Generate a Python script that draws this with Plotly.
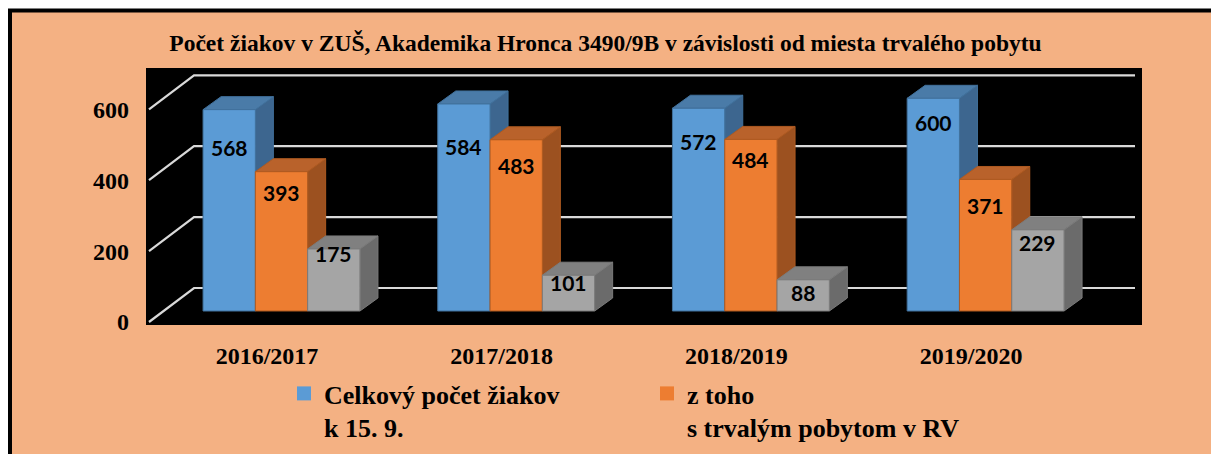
import plotly.graph_objects as go

# ---- data -------------------------------------------------------------
years = ["2016/2017", "2017/2018", "2018/2019", "2019/2020"]
celkovo = [568, 584, 572, 600]          # Celkový počet žiakov k 15. 9.
trvaly_rv = [393, 483, 484, 371]        # z toho s trvalým pobytom v RV
mimo_rv = [175, 101, 88, 229]           # ostatní žiaci
y_ticks = [0, 200, 400, 600]

series_names = [
    "Celkový počet žiakov<br>k 15. 9.",
    "z toho<br>s trvalým pobytom v RV",
    "mimo RV",
]
series_in_legend = [True, True, False]

# ---- styling / geometry (pixels) -------------------------------------
W, H = 1211, 454
PL, PT, PR, PB = 146, 68, 1142, 325     # black plot area
GROUP_PX = 234.7                        # distance between category centres
CENTER0_PX = 281.5                      # centre of first category (bar plane)
BASE_PX = 311                           # zero line of the bar plane
VAL_PX = 0.3545                         # pixels per student
BAR_PX = 52.3                           # width of one bar
DEPTH_DX, DEPTH_DY = 18, 13             # 3-D depth of one bar
FRONT_DX, FRONT_DY = -14.5, 11          # front edge of the floor vs bar plane
BACK_DY = 23                            # back wall vs bar plane
WALL_FRONT_X, WALL_BACK_X, WALL_END_X = 149, 194, 1135

face_colors = {
    "front": ["#5B9BD5", "#ED7D31", "#A5A5A5"],
    "top": ["#4A7BA8", "#B9622B", "#808080"],
    "side": ["#3D668F", "#9C5120", "#6B6B6B"],
}
edge_colors = ["#41719C", "#AE5A21", "#7B7B7B"]
label_drop_px = [
    [38, 43, 33, 24],
    [21, 26, 20, 26],
    [5, 7, 13, 13],
]
SALMON = "#F4B183"


def ux(px):
    """pixel x -> category axis units"""
    return (px - CENTER0_PX) / GROUP_PX


def du(dpx):
    return dpx / GROUP_PX


def dv(dpx):
    return dpx / VAL_PX


def paper_x(px):
    return (px - PL) / (PR - PL)


def paper_y(py):
    return (PB - py) / (PB - PT)


fig = go.Figure()

# ---- wall gridlines (back wall + left wall diagonals) ----------------
gx, gy = [], []
for t in y_ticks:
    front_v = t - dv(FRONT_DY)
    back_v = t + dv(BACK_DY)
    gx += [ux(WALL_FRONT_X), ux(WALL_BACK_X), ux(WALL_END_X), None]
    gy += [front_v, back_v, back_v, None]
fig.add_trace(go.Scatter(
    x=gx, y=gy, mode="lines", line=dict(color="#D9D9D9", width=2.2),
    hoverinfo="skip", showlegend=False,
))

# ---- 3-D bars ----------------------------------------------------------
all_series = [celkovo, trvaly_rv, mimo_rv]
bw = du(BAR_PX)
ddx, ddy = du(DEPTH_DX), dv(DEPTH_DY)

for k, values in enumerate(all_series):
    faces = {"side": ([], []), "top": ([], []), "front": ([], [])}
    for i, v in enumerate(values):
        left = i - 1.5 * bw + k * bw
        right = left + bw
        polys = {
            "side": [(right, 0), (right + ddx, ddy), (right + ddx, v + ddy),
                     (right, v), (right, 0)],
            "top": [(left, v), (right, v), (right + ddx, v + ddy),
                    (left + ddx, v + ddy), (left, v)],
            "front": [(left, 0), (right, 0), (right, v), (left, v), (left, 0)],
        }
        for name, pts in polys.items():
            xs, ys = faces[name]
            xs += [p[0] for p in pts] + [None]
            ys += [p[1] for p in pts] + [None]
    for name in ("side", "top", "front"):
        xs, ys = faces[name]
        fig.add_trace(go.Scatter(
            x=xs, y=ys, mode="lines", fill="toself",
            fillcolor=face_colors[name][k],
            line=dict(color=edge_colors[k], width=1),
            hoverinfo="skip", showlegend=False,
        ))
    # value labels
    for i, v in enumerate(values):
        fig.add_annotation(
            x=i - 1.5 * bw + (k + 0.5) * bw, y=v, yshift=-label_drop_px[k][i],
            text=str(v), showarrow=False, yanchor="middle",
            font=dict(family="Lato", size=21, color="black", weight="bold"),
        )

# ---- legend entries ----------------------------------------------------
for k, name in enumerate(series_names):
    if series_in_legend[k]:
        fig.add_trace(go.Scatter(
            x=[None], y=[None], mode="markers", name=name,
            marker=dict(symbol="square", size=14, color=face_colors["front"][k]),
        ))

serif_bold = dict(family="Liberation Serif", color="black", weight="bold")

fig.update_layout(
    width=W, height=H, autosize=False,
    margin=dict(l=PL, r=W - PR, t=PT, b=H - PB, pad=0, autoexpand=False),
    paper_bgcolor=SALMON, plot_bgcolor="black",
    title=dict(
        text="Počet žiakov v ZUŠ, Akademika Hronca 3490/9B v závislosti od miesta trvalého pobytu",
        x=0.5, xanchor="center", xref="container",
        y=1 - 43 / H, yanchor="middle", yref="container",
        font=dict(size=23.5, **serif_bold),
    ),
    xaxis=dict(
        range=[ux(PL), ux(PR)], showgrid=False, zeroline=False,
        tickvals=[i + du(FRONT_DX) for i in range(len(years))],
        ticktext=years, ticks="", ticklabelstandoff=14,
        tickfont=dict(size=24, **serif_bold), automargin=False,
    ),
    yaxis=dict(
        range=[-dv(PB - BASE_PX), dv(BASE_PX - PT)], showgrid=False, zeroline=False,
        tickvals=[t - dv(FRONT_DY) for t in y_ticks],
        ticktext=[str(t) for t in y_ticks], ticks="", ticklabelstandoff=16,
        tickfont=dict(size=24, **serif_bold), automargin=False,
    ),
    legend=dict(
        orientation="h", x=paper_x(284), xanchor="left",
        y=paper_y(370), yanchor="top", valign="top",
        font=dict(size=26, **serif_bold), bgcolor="rgba(0,0,0,0)",
        entrywidth=318, tracegroupgap=0,
    ),
    shapes=[
        dict(type="rect", xref="paper", yref="paper", layer="below",
             x0=paper_x(-5), x1=paper_x(W + 5), y0=paper_y(9), y1=paper_y(-5),
             fillcolor="white", line=dict(width=0)),
        dict(type="rect", xref="paper", yref="paper", layer="below",
             x0=paper_x(-5), x1=paper_x(8), y0=paper_y(H + 5), y1=paper_y(-5),
             fillcolor="white", line=dict(width=0)),
        dict(type="rect", xref="paper", yref="paper", layer="below",
             x0=paper_x(10), x1=paper_x(W + 20), y0=paper_y(H + 20), y1=paper_y(10.5),
             fillcolor="rgba(0,0,0,0)", line=dict(color="black", width=4)),
    ],
)

fig.write_html("out.html")
